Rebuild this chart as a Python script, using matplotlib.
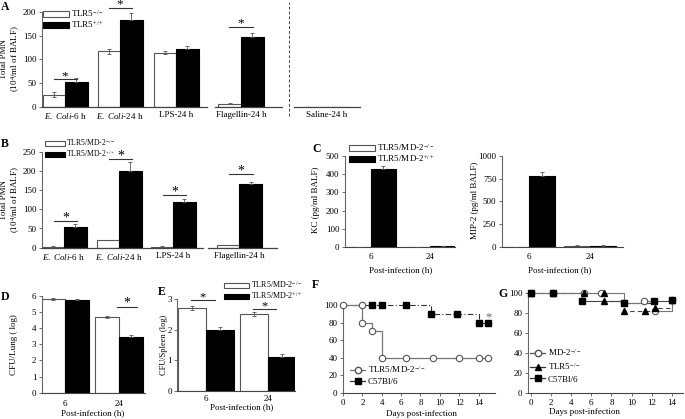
import matplotlib
matplotlib.use('Agg')
import matplotlib.pyplot as plt
import numpy as np
from matplotlib.lines import Line2D
from matplotlib.patches import Patch

plt.rcParams['font.family'] = ['Liberation Serif', 'DejaVu Serif']
plt.rcParams['mathtext.fontset'] = 'custom'
plt.rcParams['mathtext.rm'] = 'Liberation Serif'
plt.rcParams['mathtext.it'] = 'Liberation Serif:italic'
plt.rcParams['font.size'] = 6.5
plt.rcParams['axes.linewidth'] = 0.8

# ---------------- data ----------------
a_labels = [r'$\mathit{E.\ Coli}$-6 h', r'$\mathit{E.\ Coli}$-24 h', 'LPS-24 h', 'Flagellin-24 h', 'Saline-24 h']
a_ko = [26, 117, 114, 7, 1]
a_ko_err = [5, 5, 3, 1, 0]
a_wt = [53, 184, 122, 148, 1]
a_wt_err = [7, 14, 6, 7, 0]
a_sig_groups = [0, 1, 3]
a_sig_heights = [58, 209, 169]

b_labels = [r'$\mathit{E.\ Coli}$-6 h', r'$\mathit{E.\ Coli}$-24 h', 'LPS-24 h', 'Flagellin-24 h']
b_ko = [3, 20, 3, 7]
b_ko_err = [1, 1, 1, 1]
b_wt = [53, 200, 118, 165]
b_wt_err = [10, 23, 10, 5]
b_sig_groups = [0, 1, 2, 3]
b_sig_heights = [69, 230, 137, 191]

time_labels = ['6', '24']
kc_ko = [3, 1]
kc_ko_err = [0, 0]
kc_wt = [430, 5]
kc_wt_err = [15, 4]
mip_ko = [3, 15]
mip_ko_err = [0, 5]
mip_wt = [780, 15]
mip_wt_err = [40, 8]

d_ko = [5.8, 4.7]
d_ko_err = [0.05, 0.05]
d_wt = [5.75, 3.45]
d_wt_err = [0.03, 0.1]
d_sig_groups = [1]
d_sig_heights = [5.3]

e_ko = [2.72, 2.52]
e_ko_err = [0.07, 0.05]
e_wt = [1.98, 1.12]
e_wt_err = [0.1, 0.1]
e_sig_groups = [0, 1]
e_sig_heights = [2.97, 2.68]

f_ko_days = [0, 2, 2, 3, 4, 6.5, 9.3, 12, 14, 15]
f_ko_surv = [100, 100, 80, 70, 40, 40, 40, 40, 40, 40]
f_wt_days = [0, 3, 4, 6.5, 9.1, 11.8, 14, 15]
f_wt_surv = [100, 100, 100, 100, 90, 90, 80, 80]

g_md2_days = [0, 2.2, 5.3, 7.0, 9.2, 11.2, 12.3, 14]
g_md2_surv = [100, 100, 100, 100, 90, 92, 82, 93]
g_tlr5_days = [0, 2.2, 5.3, 7.3, 7.3, 9.2, 11.3, 12.3, 14]
g_tlr5_surv = [100, 100, 100, 100, 92, 82, 82, 85, 93]
g_c57_days = [0, 2.2, 5.1, 9.2, 12.2, 14]
g_c57_surv = [100, 100, 92, 90, 92, 93]

# ---------------- layout helpers ----------------
W, H = 685, 419
fig = plt.figure(figsize=(W / 100, H / 100), dpi=100)


def rect(x0, y0, x1, y1):
    return [x0 / W, 1 - y1 / H, (x1 - x0) / W, (y1 - y0) / H]


def ftext(x, y, s, **kw):
    fig.text(x / W, 1 - y / H, s, **kw)


EDGE = '#555555'


def style(ax, bottom=True):
    for s in ['top', 'right']:
        ax.spines[s].set_visible(False)
    ax.spines['left'].set_color('#666666')
    ax.spines['bottom'].set_color('#444444')
    ax.spines['bottom'].set_visible(bottom)
    ax.tick_params(axis='y', direction='out', length=2.5, width=0.6, pad=1.5, colors='#555555', labelcolor='black')
    ax.tick_params(axis='x', length=0, pad=3)


def bars(ax, centers, ko, ko_err, wt, wt_err, width):
    centers = np.asarray(centers, dtype=float)
    ax.bar(centers - width / 2, ko, width, color='white', edgecolor=EDGE, linewidth=0.8, zorder=2)
    ax.errorbar(centers - width / 2, ko, yerr=ko_err, fmt='none', ecolor=EDGE, elinewidth=0.6,
                capsize=1.3, capthick=0.6, zorder=3)
    ax.bar(centers + width / 2, wt, width, color='black', edgecolor='black', linewidth=0.8, zorder=2)
    ax.errorbar(centers + width / 2, wt, yerr=[np.zeros(len(wt)), wt_err], fmt='none', ecolor=EDGE,
                elinewidth=0.6, capsize=1.3, capthick=0.6, zorder=3)


def sig(ax, centers, groups, heights, half=0.21, shift=0.0, size=10):
    for g, h in zip(groups, heights):
        c = centers[g] + shift
        ax.plot([c - half, c + half], [h, h], color='#333333', lw=0.8, clip_on=False)
        ax.text(c, h, '*', ha='center', va='baseline', fontsize=size, clip_on=False)


def bar_legend(ax, labels, x, y, size=6.5, hl=2.9):
    handles = [Patch(facecolor='white', edgecolor=EDGE, linewidth=0.8),
               Patch(facecolor='black', edgecolor='black', linewidth=0.8)]
    ax.legend(handles, labels, loc='upper left', bbox_to_anchor=(x / W, 1 - y / H),
              bbox_transform=fig.transFigure, frameon=False, borderpad=0, borderaxespad=0,
              labelspacing=0.05, handletextpad=0.2, handlelength=hl, handleheight=0.6,
              fontsize=size)


# ---------------- Panel A ----------------
axA = fig.add_axes(rect(42, 12, 362, 107))
style(axA, bottom=False)
a_centers = [0, 1, 2.02, 3.2, 4.75]
wA = 0.41
bars(axA, a_centers, a_ko, a_ko_err, a_wt, a_wt_err, wA)
axA.set_xlim(-0.42, 5.4)
axA.set_ylim(0, 200)
axA.set_yticks([0, 50, 100, 150, 200])
axA.set_xticks(a_centers)
axA.set_xticklabels(a_labels)
for x0, x1 in [(-0.42, 2.58), (2.73, 3.95), (4.16, 5.36)]:
    axA.plot([x0, x1], [0, 0], color='#444444', lw=0.9, clip_on=False, zorder=4)
axA.axvline(4.07, ymin=-0.09, ymax=1.1, color='#444444', lw=0.7, ls=(0, (3, 2)), clip_on=False)
sig(axA, a_centers, a_sig_groups, a_sig_heights, size=9.5)
bar_legend(axA, [r'TLR5$^{-/-}$', r'TLR5$^{+/+}$'], 43, 8)
ftext(11, 59, 'Total PMN\n(10$^4$/ml of BALF)', rotation=90, ha='center', va='center', linespacing=1.1)
ftext(5, 7, 'A', fontsize=8.5, fontweight='bold', ha='center', va='center')

# ---------------- Panel B ----------------
axB = fig.add_axes(rect(42, 151.7, 279, 247.7))
style(axB, bottom=False)
b_centers = [0, 1, 1.98, 3.18]
bars(axB, b_centers, b_ko, b_ko_err, b_wt, b_wt_err, wA)
axB.set_xlim(-0.4, 3.9)
axB.set_ylim(0, 250)
axB.set_yticks([0, 50, 100, 150, 200, 250])
axB.set_xticks(b_centers)
axB.set_xticklabels(b_labels)
for x0, x1 in [(-0.4, 2.53), (2.62, 3.87)]:
    axB.plot([x0, x1], [0, 0], color='#444444', lw=0.9, clip_on=False, zorder=4)
sig(axB, b_centers, b_sig_groups, b_sig_heights, shift=0.03)
bar_legend(axB, [r'TLR5/MD-2$^{-/-}$', r'TLR5/MD-2$^{+/+}$'], 45, 137, size=5.5, hl=2.6)
ftext(11, 200, 'Total PMN\n(10$^4$/ml of BALF)', rotation=90, ha='center', va='center', linespacing=1.1)
ftext(5, 144, 'B', fontsize=8.5, fontweight='bold', ha='center', va='center')

# ---------------- Panel C ----------------
c_centers = [0, 1]
wC = 0.42
axKC = fig.add_axes(rect(345, 155.7, 455, 247.3))
style(axKC)
bars(axKC, c_centers, kc_ko, kc_ko_err, kc_wt, kc_wt_err, wC)
axKC.set_xlim(-0.44, 1.42)
axKC.set_ylim(0, 500)
axKC.set_yticks([0, 100, 200, 300, 400, 500])
axKC.set_xticks(c_centers)
axKC.set_xticklabels(time_labels)
axKC.tick_params(axis='x', pad=4)
bar_legend(axKC, [r'TLR5/MD-2$^{-/-}$', r'TLR5/MD-2$^{+/+}$'], 349, 142)
ftext(316, 200, 'KC (pg/ml BALF)', rotation=90, ha='center', va='center')
ftext(401, 270, 'Post-infection (h)', ha='center', va='center')
ftext(317, 149, 'C', fontsize=8.5, fontweight='bold', ha='center', va='center')

axMIP = fig.add_axes(rect(502, 155.7, 623, 247.3))
style(axMIP)
bars(axMIP, c_centers, mip_ko, mip_ko_err, mip_wt, mip_wt_err, wC)
axMIP.set_xlim(-0.44, 1.54)
axMIP.set_ylim(0, 1000)
axMIP.set_yticks([0, 250, 500, 750, 1000])
axMIP.set_xticks(c_centers)
axMIP.set_xticklabels(time_labels)
axMIP.tick_params(axis='x', pad=4)
ftext(475, 200, 'MIP-2 (pg/ml BALF)', rotation=90, ha='center', va='center')
ftext(560, 270, 'Post-infection (h)', ha='center', va='center')

# ---------------- Panel D ----------------
axD = fig.add_axes(rect(42, 295.7, 145, 392.7))
style(axD)
d_centers = [0, 1]
bars(axD, d_centers, d_ko, d_ko_err, d_wt, d_wt_err, 0.44)
axD.set_xlim(-0.43, 1.48)
axD.set_ylim(0, 6)
axD.set_yticks(range(0, 7))
axD.set_xticks(d_centers)
axD.set_xticklabels(time_labels)
axD.tick_params(axis='x', pad=5)
sig(axD, d_centers, d_sig_groups, d_sig_heights, half=0.19, shift=0.15)
ftext(14, 345, 'CFU/Lung ( log)', rotation=90, ha='center', va='center')
ftext(93, 413, 'Post-infection (h)', ha='center', va='center')
ftext(5, 297, 'D', fontsize=8.5, fontweight='bold', ha='center', va='center')

# ---------------- Panel E ----------------
axE = fig.add_axes(rect(177, 299.3, 295, 391))
style(axE)
axE.tick_params(axis='y', pad=1)
e_centers = [0, 1]
bars(axE, e_centers, e_ko, e_ko_err, e_wt, e_wt_err, 0.45)
axE.set_xlim(-0.47, 1.44)
axE.set_ylim(0, 3)
axE.set_yticks([0, 1, 2, 3])
axE.set_xticks(e_centers)
axE.set_xticklabels(time_labels)
sig(axE, e_centers, e_sig_groups, e_sig_heights, half=0.19, shift=-0.05, size=9)
bar_legend(axE, [r'TLR5/MD-2$^{-/-}$', r'TLR5/MD-2$^{+/+}$'], 224, 279, size=5.8, hl=3.1)
ftext(164, 345, 'CFU/Spleen (log)', rotation=90, ha='center', va='center', fontsize=6)
ftext(242, 407, 'Post-infection (h)', ha='center', va='center')
ftext(162, 292, 'E', fontsize=8.5, fontweight='bold', ha='center', va='center')

# ---------------- Panel F ----------------
axF = fig.add_axes(rect(343, 305, 495, 392.7))
style(axF)
axF.tick_params(axis='x', direction='out', length=2.5, width=0.6, pad=2, colors='#555555', labelcolor='black')
axF.plot(f_ko_days, f_ko_surv, drawstyle='steps-post', color='#777777', lw=0.9, clip_on=False, zorder=2)
axF.plot(f_ko_days, f_ko_surv, ls='none', marker='o', ms=4.6, mfc='white', mec='#555555', mew=0.8,
         clip_on=False, zorder=4)
axF.plot(f_wt_days, f_wt_surv, drawstyle='steps-post', color='#333333', lw=0.8, ls=(0, (5, 2, 1, 2)),
         clip_on=False, zorder=1)
axF.plot(f_wt_days[1:], f_wt_surv[1:], ls='none', marker='s', ms=3.8, mfc='black', mec='black',
         clip_on=False, zorder=3)
axF.text(15, 83, '*', ha='center', va='baseline', fontsize=9, color='#666666')
axF.set_xlim(0, 15.7)
axF.set_ylim(0, 100)
axF.set_xticks(range(0, 15, 2))
axF.set_yticks(range(0, 101, 20))
hF = [Line2D([], [], color='#777777', lw=0.9, marker='o', ms=4.6, mfc='white', mec='#555555'),
      Line2D([], [], color='#333333', lw=0.9, marker='s', ms=3.8, mfc='black', mec='black')]
axF.legend(hF, [r'TLR5/MD-2$^{-/-}$', 'C57Bl/6'], loc='upper left', bbox_to_anchor=(350 / W, 1 - 364 / H),
           bbox_transform=fig.transFigure, frameon=False, borderpad=0, borderaxespad=0,
           labelspacing=0.3, handletextpad=0.3, handlelength=1.7, fontsize=6.5)
ftext(421, 414, 'Days post-infection', ha='center', va='center')
ftext(315, 285, 'F', fontsize=8.5, fontweight='bold', ha='center', va='center')

# ---------------- Panel G ----------------
axG = fig.add_axes(rect(528, 292.7, 683, 392.7))
style(axG)
axG.tick_params(axis='x', direction='out', length=2.5, width=0.6, pad=2, colors='#555555', labelcolor='black')
axG.plot(g_c57_days, g_c57_surv, drawstyle='steps-post', color='#444444', lw=0.8, clip_on=False, zorder=1)
axG.plot(g_tlr5_days, g_tlr5_surv, drawstyle='steps-post', color='#444444', lw=0.8, ls=(0, (4, 3)),
         clip_on=False, zorder=1)
axG.plot(g_md2_days, g_md2_surv, drawstyle='steps-post', color='#777777', lw=0.8, clip_on=False, zorder=1)
axG.plot(g_md2_days, g_md2_surv, ls='none', marker='o', ms=4.6, mfc='white', mec='#555555', mew=0.8,
         clip_on=False, zorder=3)
axG.plot(g_c57_days, g_c57_surv, ls='none', marker='s', ms=4.0, mfc='black', mec='black',
         clip_on=False, zorder=4)
axG.plot(g_tlr5_days, g_tlr5_surv, ls='none', marker='^', ms=4.2, mfc='black', mec='black',
         clip_on=False, zorder=5)
axG.set_xlim(-0.27, 15.1)
axG.set_ylim(0, 100)
axG.set_xticks(range(0, 15, 2))
axG.set_yticks(range(0, 101, 20))
hG = [Line2D([], [], color='#555555', lw=0.9, marker='o', ms=4.6, mfc='white', mec='#555555'),
      Line2D([], [], color='#333333', lw=0.9, marker='^', ms=4.2, mfc='black', mec='black'),
      Line2D([], [], color='#333333', lw=0.9, marker='s', ms=4.0, mfc='black', mec='black')]
axG.legend(hG, [r'MD-2$^{-/-}$', r'TLR5$^{-/-}$', 'C57Bl/6'], loc='upper left',
           bbox_to_anchor=(530 / W, 1 - 347 / H), bbox_transform=fig.transFigure, frameon=False,
           borderpad=0, borderaxespad=0, labelspacing=0.35, handletextpad=0.3, handlelength=1.7,
           fontsize=6.5)
ftext(584, 412, 'Days post-infection', ha='center', va='center')
ftext(503, 294, 'G', fontsize=8.5, fontweight='bold', ha='center', va='center')

fig.savefig('out.png', dpi=100, facecolor='white')
